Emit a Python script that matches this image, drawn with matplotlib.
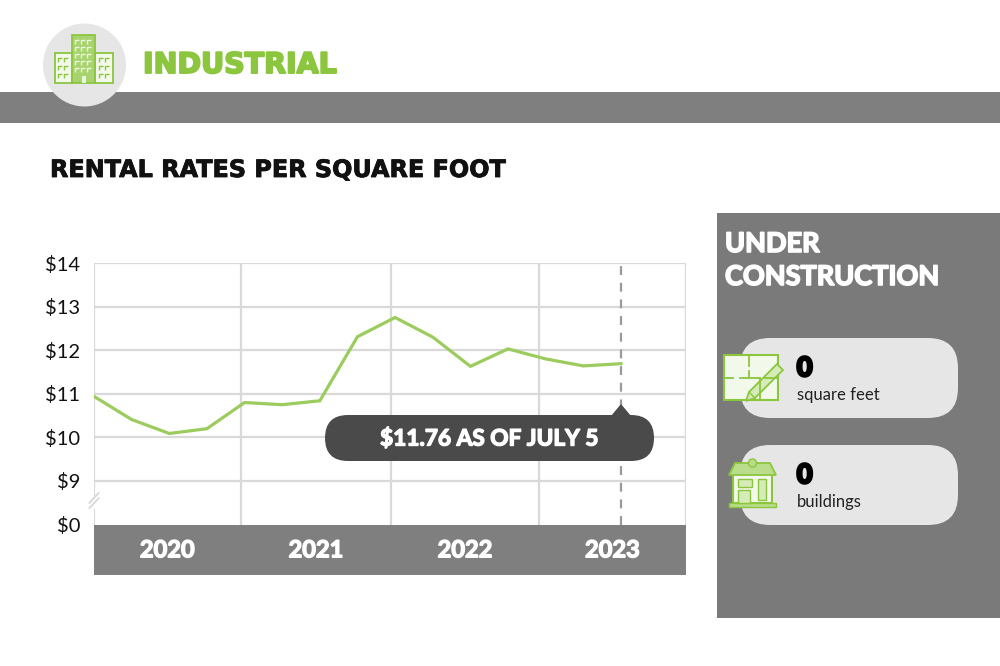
import matplotlib
matplotlib.use("Agg")
import matplotlib.pyplot as plt
import matplotlib.patheffects as pe
from matplotlib.patches import FancyBboxPatch, Rectangle, Circle, Polygon

# --- data (quarterly asking rent, $/sq ft) ---
quarter_idx = list(range(15))
rent = [10.94, 10.41, 10.09, 10.20, 10.80, 10.75, 10.84, 12.31,
        12.75, 12.30, 11.63, 12.03, 11.80, 11.64, 11.69]
years = ["2020", "2021", "2022", "2023"]
ytick_pos = [8, 9, 10, 11, 12, 13, 14]          # 8 stands in for the broken $0
ytick_labels = ["$0", "$9", "$10", "$11", "$12", "$13", "$14"]
callout = "$11.76 AS OF JULY 5"
uc_values = ["0", "0"]
uc_labels = ["square feet", "buildings"]

GREEN = "#8cc63f"
LINE_GREEN = "#9ccb5e"
GREY_BAR = "#7f7f7f"
PANEL = "#7a7a7a"
PILL = "#e6e6e6"
DARK = "#4b4a4a"
GRID = "#d9d9d9"
FONT = ["Lato", "DejaVu Sans"]
WIDE = ["DejaVu Sans"]

plt.rcParams["font.family"] = FONT

W, H = 1000, 666
fig = plt.figure(figsize=(W / 100, H / 100), dpi=100)


def heavy(color, w=0.8):
    return [pe.withStroke(linewidth=w, foreground=color)]


def px_axes(z):
    a = fig.add_axes([0, 0, 1, 1], zorder=z)
    a.set_xlim(0, W)
    a.set_ylim(H, 0)
    a.axis("off")
    a.patch.set_alpha(0)
    return a


under = px_axes(0)

# header
under.add_patch(Rectangle((0, 92), W, 31, color=GREY_BAR, lw=0))
under.add_patch(Circle((84.5, 65), 41.5, color="#e6e6e6", lw=0))
under.text(143, 65, "INDUSTRIAL", color=GREEN, fontsize=20.5, weight="bold",
           family=WIDE, va="center", ha="left", path_effects=heavy(GREEN, 1.4))

# building icon
under.add_patch(Rectangle((55, 53), 17, 30, fc="#f3f9ea", ec=GREEN, lw=1.3))
under.add_patch(Rectangle((95, 53), 18, 30, fc="#f3f9ea", ec=GREEN, lw=1.3))
under.add_patch(Rectangle((72, 35), 23, 48, fc="#a8d46f", ec=GREEN, lw=1.3))


def win(a, x, y, c, s=4):
    a.plot([x, x, x + s], [y + s, y, y], color=c, lw=1.0, solid_capstyle="butt")


for cx in (58, 64):
    for cy in (58, 66, 74):
        win(under, cx, cy, GREEN)
for cx in (99, 105):
    for cy in (58, 66, 74):
        win(under, cx, cy, GREEN)
for cx in (75, 81, 87):
    for cy in (40, 47, 54, 61, 68):
        win(under, cx, cy, "#eaf5dc")
under.add_patch(Rectangle((81.5, 76), 4, 7, fc="#eaf5dc", ec="none"))

# title
under.text(50, 170, "RENTAL RATES PER SQUARE FOOT", fontsize=17.2, weight="bold",
           family=WIDE, color="#111111", va="center", ha="left",
           path_effects=heavy("#111111", 0.6))

# right panel
under.add_patch(Rectangle((717, 213), W - 717, 405, color=PANEL, lw=0))
for txt, yy in (("UNDER", 244), ("CONSTRUCTION", 277)):
    under.text(725, yy, txt, color="white", fontsize=19.5, weight="bold",
               va="center", ha="left", path_effects=heavy("white", 1.2))
for i, (val, lab) in enumerate(zip(uc_values, uc_labels)):
    top = 338 + i * 107
    under.add_patch(FancyBboxPatch((740 + 30, top + 30), 218 - 60, 80 - 60,
                                   boxstyle="round,pad=30", fc=PILL, ec="none"))
    under.text(797, top + 30, val, fontsize=19, weight="bold", color="black",
               va="center", ha="left", path_effects=heavy("black", 2.2))
    under.text(797, top + 57, lab, fontsize=12, color="#222222",
               va="center", ha="left")

# floor plan icon
under.add_patch(Rectangle((724, 355), 54, 45, fc="#f3f9ea", ec=GREEN, lw=1.5))
for xs, ys in [((749, 749), (355, 366)), ((749, 749), (371, 378)),
               ((724, 733), (378, 378)), ((740, 760), (378, 378)),
               ((760, 760), (378, 400)), ((765, 778), (378, 378))]:
    under.plot(xs, ys, color=GREEN, lw=1.3)
under.add_patch(Polygon([(746, 401), (749, 392), (777, 364), (783, 370),
                         (755, 398)], closed=True, fc="#d5ebb8", ec=GREEN, lw=1.3))
under.plot([749, 755], [392, 398], color=GREEN, lw=1.0)

# house icon
under.add_patch(Rectangle((733, 474), 39, 29, fc="#f3f9ea", ec=GREEN, lw=1.5))
under.add_patch(Polygon([(729, 475), (735, 463), (770, 463), (776, 475)],
                        closed=True, fc="#b9dd8a", ec=GREEN, lw=1.3))
under.add_patch(Circle((752.5, 463), 4, fc="#b9dd8a", ec=GREEN, lw=1.0))
under.add_patch(Rectangle((729, 503), 47, 4, fc="#b9dd8a", ec=GREEN, lw=1.0))
under.add_patch(Rectangle((738, 479), 14, 8, fc="#d5ebb8", ec=GREEN, lw=1.0))
under.add_patch(Rectangle((738, 490), 12, 13, fc="#d5ebb8", ec=GREEN, lw=1.0))
under.add_patch(Rectangle((758, 479), 8, 21, fc="#d5ebb8", ec=GREEN, lw=1.0))

# --- line chart ---
UNIT = 43.6                     # px per dollar
STEP = 37.64                    # px per quarter
ax_l, ax_r, ax_t, ax_b = 94, 686, 263, 575
y_bot = 14 - (ax_b - ax_t) / UNIT
x_right = (ax_r - ax_l) / STEP
year_edges = [0, 3.9, 7.9, 11.82, x_right]

ax = fig.add_axes([ax_l / W, 1 - ax_b / H, (ax_r - ax_l) / W, (ax_b - ax_t) / H],
                  zorder=1)
ax.patch.set_alpha(0)
ax.set_xlim(0, x_right)
ax.set_ylim(y_bot, 14)
for s in ax.spines.values():
    s.set_visible(False)
ax.set_xticks([])
ax.set_yticks(ytick_pos)
ax.set_yticklabels(ytick_labels)
ax.tick_params(axis="y", length=0, pad=10, labelsize=14.5, labelcolor="#111111")

for yv in ytick_pos[1:]:
    ax.plot([0, x_right], [yv, yv], color=GRID, lw=1.6, zorder=1,
            solid_capstyle="butt")
for xe in year_edges[1:4]:
    ax.plot([xe, xe], [8, 14], color=GRID, lw=1.6, zorder=1)
ax.plot([x_right, x_right], [y_bot, 14], color=GRID, lw=1.6, zorder=1)
# left axis with break marks
ax.plot([0, 0], [8.68, 14], color=GRID, lw=1.6, zorder=1)
ax.plot([0, 0], [8.0, 8.33], color=GRID, lw=1.6, zorder=1)
for dy in (0.0, 0.12):
    ax.plot([-0.12, 0.12], [8.38 + dy, 8.6 + dy], color=GRID, lw=1.4,
            clip_on=False, zorder=1)

ax.axhspan(y_bot, 8.0, color=GREY_BAR, lw=0, zorder=2)
for k, yr in enumerate(years):
    xc = (year_edges[k] + year_edges[k + 1]) / 2
    ax.text(xc, (y_bot + 8) / 2, yr, color="white", fontsize=17, weight="bold",
            ha="center", va="center", zorder=3, path_effects=heavy("white", 1.0))

ax.plot([quarter_idx[-1]] * 2, [8, 14], color="#9a9a9a", lw=1.6,
        dashes=(4, 3.5), zorder=2)
ax.plot(quarter_idx, rent, color=LINE_GREEN, lw=2.3, zorder=3,
        solid_joinstyle="miter")

# callout pill
over = px_axes(2)
over.add_patch(FancyBboxPatch((325 + 23, 415 + 23), 329 - 46, 46 - 46,
                              boxstyle="round,pad=23", fc=DARK, ec="none"))
over.add_patch(Polygon([(611, 416), (621, 404), (631, 416)], closed=True,
                       fc=DARK, ec="none"))
over.text(489, 439, callout, color="white", fontsize=16.3, weight="bold",
          ha="center", va="center", path_effects=heavy("white", 1.0))

fig.savefig("out.png", dpi=100)
